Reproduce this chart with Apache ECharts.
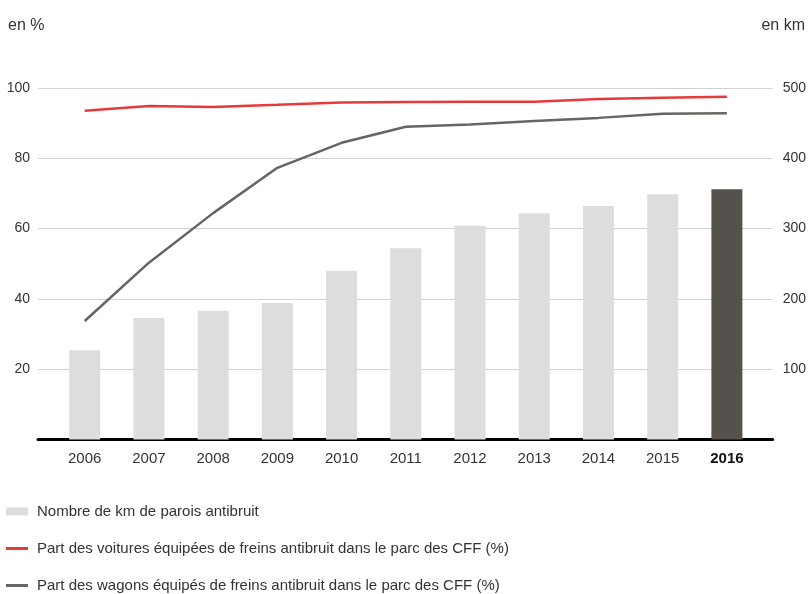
<!DOCTYPE html>
<html>
<head>
<meta charset="utf-8">
<script src="https://cdn.jsdelivr.net/npm/echarts@6/dist/echarts.min.js"></script>
<style>
  html, body { margin: 0; padding: 0; background: #fff; }
  #chart { width: 809px; height: 594px; }
</style>
</head>
<body>
<div id="chart"></div>
<script>
// data
const years = ['2006', '2007', '2008', '2009', '2010', '2011', '2012', '2013', '2014', '2015', '2016'];
const kmParois = [127, 173, 183, 194, 240, 272, 304, 322, 332, 349, 356];
const partVoitures = [93.5, 94.9, 94.6, 95.2, 95.9, 96.0, 96.1, 96.1, 96.9, 97.2, 97.5];
const partWagons = [33.7, 50.3, 64.4, 77.3, 84.4, 89.0, 89.6, 90.6, 91.5, 92.7, 92.8];
const leftTicks = [0, 20, 40, 60, 80, 100];
const rightTicks = [0, 100, 200, 300, 400, 500];

const nameKm = 'Nombre de km de parois antibruit';
const nameVoit = 'Part des voitures équipées de freins antibruit dans le parc des CFF (%)';
const nameWag = 'Part des wagons équipés de freins antibruit dans le parc des CFF (%)';

const font = 'Liberation Sans';
const textColor = '#333';
const barGrey = '#dddddc';
const barDark = '#55524d';
const red = '#e63a3a';
const darkGrey = '#666561';

const chart = echarts.init(document.getElementById('chart'));

const legendText = { fontSize: 15, color: textColor, padding: [0, 0, 0, 4] };

chart.setOption({
    animation: false,
    textStyle: { fontFamily: font },
    title: [
        { text: 'en %', left: 8, top: 18, padding: 0, textStyle: { fontSize: 16, fontWeight: 'normal', color: textColor } },
        { text: 'en km', right: 4, top: 18, padding: 0, textStyle: { fontSize: 16, fontWeight: 'normal', color: textColor } }
    ],
    grid: [
        // frame grid: gridlines, y labels and the black base line
        { left: 38, right: 36, top: 88, bottom: 154.5 },
        // data grid: bars, lines and year labels
        { left: 52.6, right: 50, top: 88, bottom: 154.5 }
    ],
    legend: [
        {
            left: 6, top: 504, padding: 0, itemWidth: 22, itemHeight: 8, icon: 'rect',
            data: [nameKm], textStyle: legendText
        },
        {
            left: 6, top: 541, padding: 0, itemWidth: 22, itemHeight: 3, icon: 'rect',
            data: [nameVoit], textStyle: legendText
        },
        {
            left: 6, top: 578, padding: 0, itemWidth: 22, itemHeight: 3, icon: 'rect',
            data: [nameWag], textStyle: legendText
        }
    ],
    xAxis: [
        {
            type: 'value', gridIndex: 0, min: 0, max: 1,
            axisLine: { show: true, onZero: false, lineStyle: { color: '#000', width: 3 } },
            axisTick: { show: false },
            axisLabel: { show: false },
            splitLine: { show: false }
        },
        {
            type: 'category', gridIndex: 1, data: years,
            axisLine: { show: false },
            axisTick: { show: false },
            axisLabel: {
                interval: 0, margin: 12, fontSize: 15, color: textColor,
                formatter: v => v === '2016' ? '{b|' + v + '}' : v,
                rich: { b: { fontWeight: 'bold', fontSize: 15, color: '#111' } }
            }
        }
    ],
    yAxis: [
        {
            type: 'value', gridIndex: 0, min: leftTicks[0], max: leftTicks[leftTicks.length - 1], interval: 20,
            axisLine: { show: false }, axisTick: { show: false },
            axisLabel: { fontSize: 14, color: textColor, margin: 8, showMinLabel: false },
            splitLine: { lineStyle: { color: '#d2d2d2', width: 1 } }
        },
        {
            type: 'value', gridIndex: 0, position: 'right', min: rightTicks[0], max: rightTicks[rightTicks.length - 1], interval: 100,
            axisLine: { show: false }, axisTick: { show: false },
            axisLabel: { fontSize: 14, color: textColor, margin: 10, showMinLabel: false },
            splitLine: { show: false }
        },
        { type: 'value', gridIndex: 1, min: 0, max: 100, show: false },
        { type: 'value', gridIndex: 1, min: 0, max: 500, show: false }
    ],
    series: [
        {
            name: nameKm, type: 'bar', xAxisIndex: 1, yAxisIndex: 3,
            barWidth: 31,
            itemStyle: { color: barGrey },
            data: kmParois.map((v, i) => i === kmParois.length - 1 ? { value: v, itemStyle: { color: barDark } } : v)
        },
        {
            name: nameVoit, type: 'line', xAxisIndex: 1, yAxisIndex: 2,
            showSymbol: false, symbol: 'none',
            lineStyle: { color: red, width: 2.5 },
            itemStyle: { color: red },
            data: partVoitures
        },
        {
            name: nameWag, type: 'line', xAxisIndex: 1, yAxisIndex: 2,
            showSymbol: false, symbol: 'none',
            lineStyle: { color: darkGrey, width: 2.5 },
            itemStyle: { color: darkGrey },
            data: partWagons
        }
    ]
});
</script>
</body>
</html>
